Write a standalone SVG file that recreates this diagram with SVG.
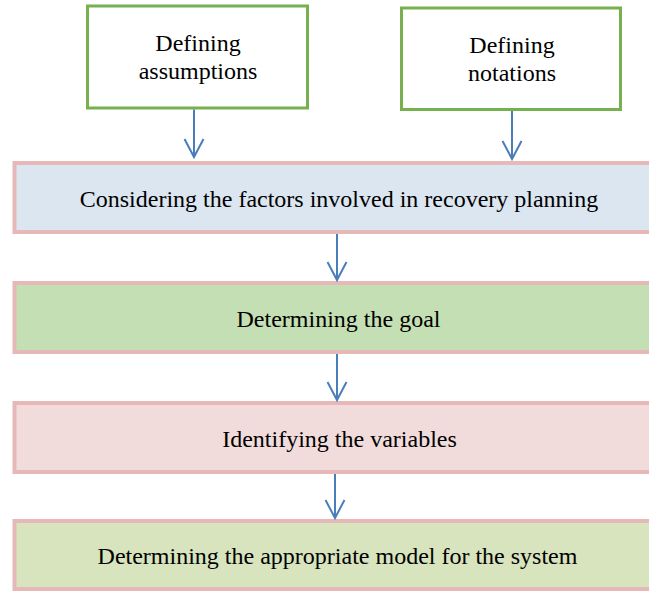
<svg xmlns="http://www.w3.org/2000/svg" width="649" height="593" viewBox="0 0 649 593">
  <style>
    .lbl { font-family: "Liberation Serif", "Times New Roman", serif; font-size: 24px; fill: #000; text-anchor: middle; }
    .top { fill: #ffffff; stroke: #77b14f; stroke-width: 3; }
    .step { stroke: #e6b9b8; stroke-width: 4; }
    .conn { stroke: #4a7ebb; stroke-width: 2; fill: none; }
  </style>
  <defs>
    <marker id="arr" markerUnits="userSpaceOnUse" viewBox="-21 -11 23 22" markerWidth="23" markerHeight="22" refX="0" refY="0" orient="auto" overflow="visible">
      <path d="M-18,-9.5 L0,0 L-18,9.5" fill="none" stroke="#4a7ebb" stroke-width="2"/>
    </marker>
  </defs>
  <rect width="649" height="593" fill="#ffffff"/>

  <g id="node-assumptions">
    <rect class="top" x="87.5" y="6" width="220" height="102"/>
    <text class="lbl" x="198" y="51">Defining</text>
    <text class="lbl" x="198" y="79">assumptions</text>
  </g>
  <g id="node-notations">
    <rect class="top" x="401.5" y="8" width="219" height="101.5"/>
    <text class="lbl" x="512" y="53">Defining</text>
    <text class="lbl" x="512" y="81">notations</text>
  </g>
  <g id="node-factors">
    <rect class="step" x="14.5" y="163" width="650" height="69" fill="#dce6f1"/>
    <text class="lbl" x="339" y="207">Considering the factors involved in recovery planning</text>
  </g>
  <g id="node-goal">
    <rect class="step" x="14.5" y="283" width="650" height="69" fill="#c4dfb3"/>
    <text class="lbl" x="338.5" y="327">Determining the goal</text>
  </g>
  <g id="node-variables">
    <rect class="step" x="14.5" y="403" width="650" height="69" fill="#f2dcdb"/>
    <text class="lbl" x="339.5" y="447">Identifying the variables</text>
  </g>
  <g id="node-model">
    <rect class="step" x="14.5" y="521" width="650" height="68" fill="#d7e4bd"/>
    <text class="lbl" x="337.5" y="564">Determining the appropriate model for the system</text>
  </g>

  <g id="connectors">
    <line class="conn" x1="194" y1="109.5" x2="194" y2="157" marker-end="url(#arr)"/>
    <line class="conn" x1="512" y1="111" x2="512" y2="159" marker-end="url(#arr)"/>
    <line class="conn" x1="337" y1="234" x2="337" y2="280" marker-end="url(#arr)"/>
    <line class="conn" x1="337" y1="354" x2="337" y2="400" marker-end="url(#arr)"/>
    <line class="conn" x1="335" y1="474" x2="335" y2="518" marker-end="url(#arr)"/>
  </g>
</svg>
